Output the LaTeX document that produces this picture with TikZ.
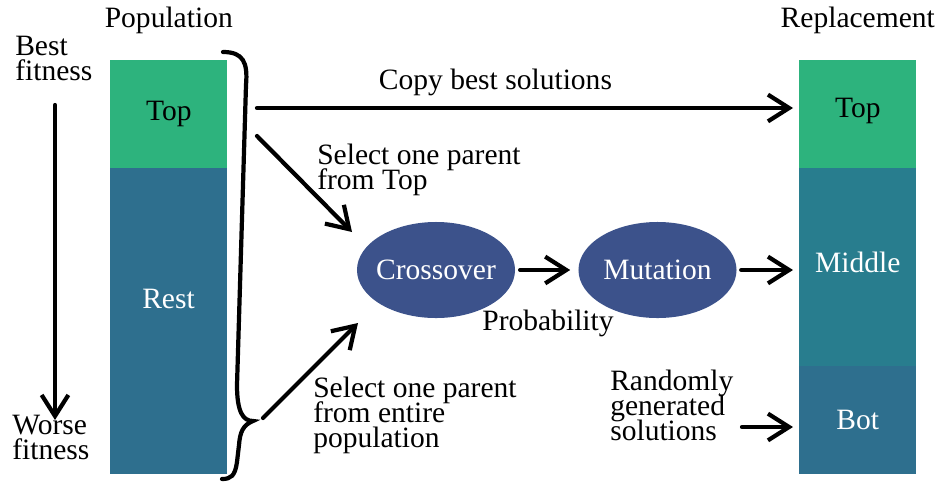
\documentclass[tikz,border=0pt]{standalone}
\usepackage{fontspec}
\setmainfont{Liberation Serif}
\usetikzlibrary{arrows.meta,positioning,shapes.geometric}
\definecolor{poptop}{HTML}{2DB37D}
\definecolor{poprest}{HTML}{2E6F8E}
\definecolor{popmid}{HTML}{287D8E}
\definecolor{opblue}{HTML}{3C528B}

\begin{document}
\begin{tikzpicture}[x=0.025cm, y=-0.025cm,
  font={\fontsize{21}{17.8}\selectfont\lineskiplimit=-30pt},
  >={Straight Barb[length=15pt,width=19pt]},
  flow/.style={->, line width=3pt, line cap=round},
  slot/.style={anchor=north west, minimum width=2.925cm, inner sep=0pt},
  op/.style={ellipse, fill=opblue, text=white, minimum width=3.95cm, minimum height=2.4cm, inner xsep=-6pt},
  txt/.style={inner sep=0pt, align=left}]
  \useasboundingbox (0,0) rectangle (940,481);

  % population, sorted by fitness
  \node[slot, fill=poptop, minimum height=2.7cm] (ptop) at (110,60) {Top};
  \node[slot, fill=poprest, minimum height=7.65cm] (prest) at (110,168) {};
  \node[text=white, anchor=base, inner sep=0pt] (restlbl) at (168.5,308) {Rest};
  \node[txt, above=0.64cm of ptop] (poplbl) {Population};

  \node[txt, anchor=north west] (best) at (15,35.5) {Best\\fitness};
  \node[txt, anchor=north west] (worse) at (12,414.5) {Worse\\fitness};
  \coordinate (fithigh) at (55,105);
  \coordinate (fitlow) at (55,420);
  \draw[flow] (fithigh) -- (fitlow);

  % brace over the whole population
  \draw[line width=3pt, line cap=round] (223,52) .. controls (243,52) and (248,62) .. (246,85)
    -- (237,385) .. controls (237,412) and (243,421) .. (253,421)
    .. controls (243,425) and (240,432) .. (239,445)
    -- (237,462) .. controls (235,476) and (231,479) .. (222,479);

  % operators
  \node[op] (cross) at (436,270) {Crossover};
  \node[op] (mut) at (657.5,270) {Mutation};
  \node[txt, anchor=base] (prob) at (548,330) {Probability};

  % replacement
  \node[slot, fill=poptop, minimum height=2.7cm, text depth=0.34cm] (rtop) at (799,60) {Top};
  \node[slot, fill=popmid, minimum height=4.95cm, text=white, text depth=0.26cm] (rmid) at (799,168) {Middle};
  \node[slot, fill=poprest, minimum height=2.7cm, text=white] (rbot) at (799,366) {Bot};
  \node[txt, above=0.64cm of rtop] (replbl) {Replacement};

  % arrows
  \coordinate (copyfrom) at (257,108);
  \draw[flow, shorten >=0.15cm] (copyfrom) -- (copyfrom -| rtop.west)
    node[pos=0.44, above=0.24cm, txt] (copylbl) {Copy best solutions};

  \coordinate (topfrom) at (257,136);
  \coordinate (topto) at (352,232);
  \draw[flow] (topfrom) -- (topto);
  \node[txt, anchor=north west] (toplbl) at (317,144) {Select one parent\\from Top};

  \coordinate (allfrom) at (263,418);
  \coordinate (allto) at (358,323);
  \draw[flow] (allfrom) -- (allto);
  \node[txt, anchor=north west] (alllbl) at (313,377) {Select one parent\\from entire\\population};

  \draw[flow, shorten <=0.12cm, shorten >=0.2cm] (cross) -- (mut);
  \draw[flow, shorten <=0.11cm, shorten >=0.15cm] (mut.east) -- (mut.east -| rmid.west);

  \node[txt, anchor=north west] (randlbl) at (610,370) {Randomly\\generated\\solutions};
  \coordinate (randfrom) at (742,427);
  \draw[flow, shorten >=0.15cm] (randfrom) -- (randfrom -| rbot.west);
\end{tikzpicture}
\end{document}
